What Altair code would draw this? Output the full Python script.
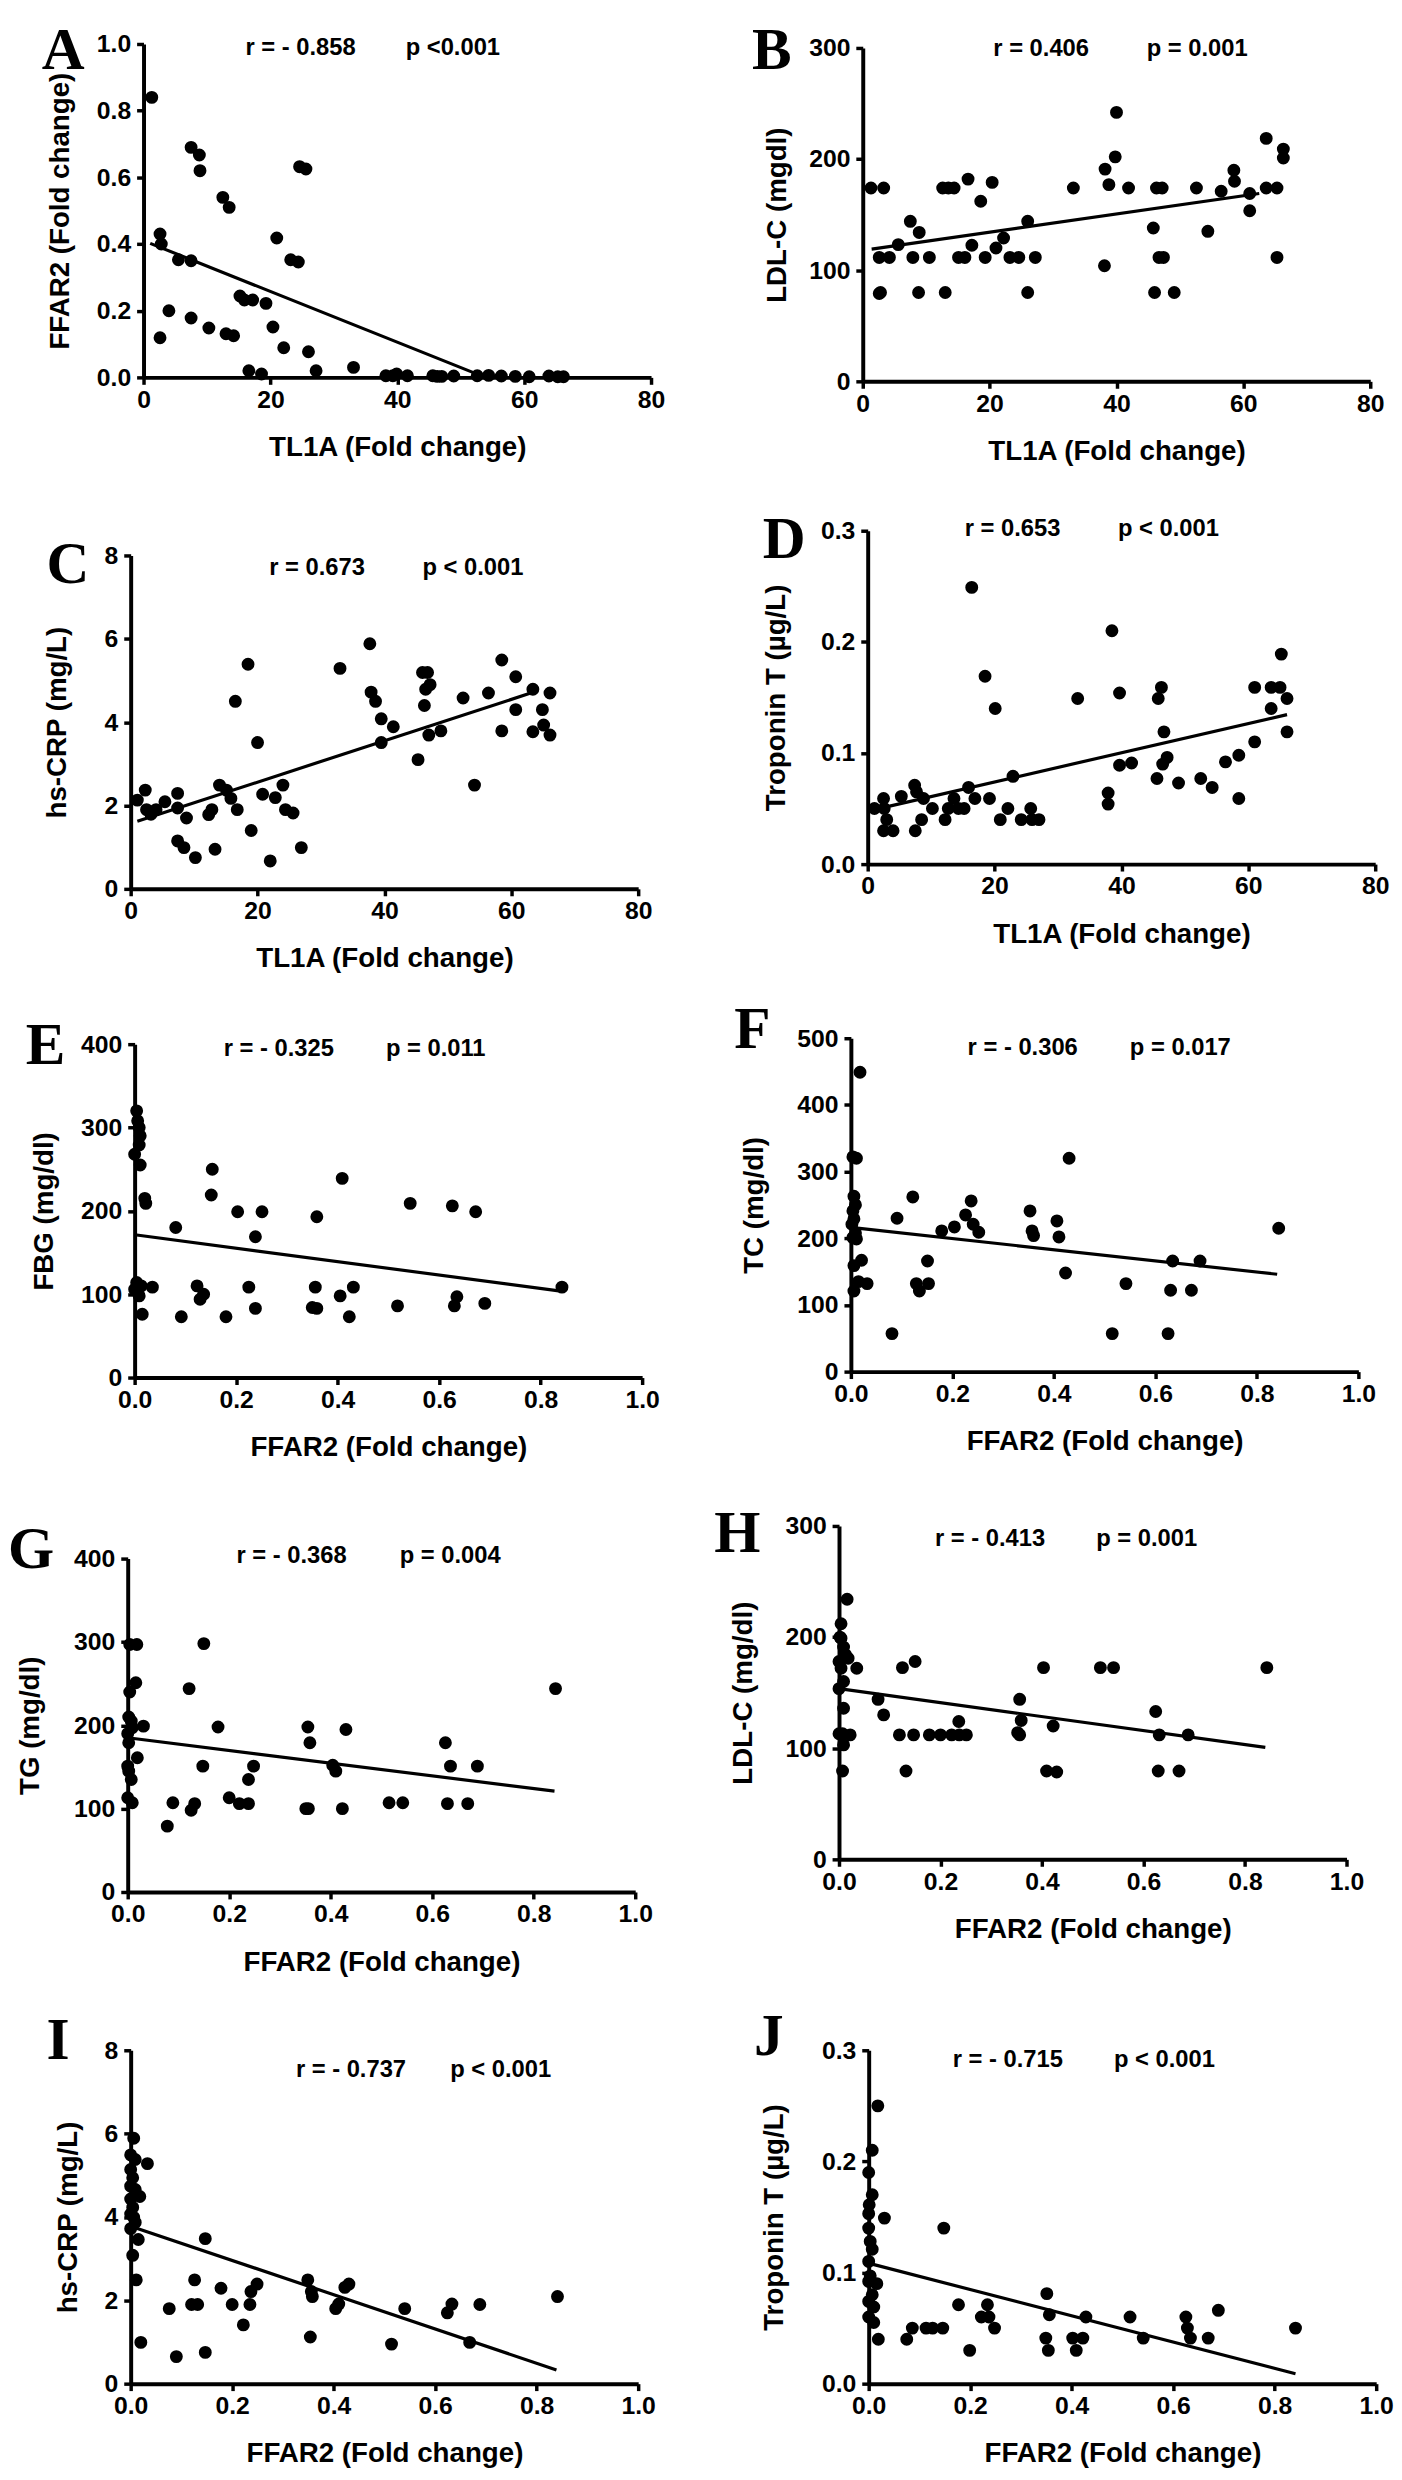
import altair as alt
import pandas as pd

# ---------------- data ----------------
# Panel A : TL1A vs FFAR2
A_x = [1.3, 2.6, 2.8, 5.5, 7.5, 7.5, 8.8, 8.9, 12.5, 13.5, 21.0, 23.2, 24.4, 24.6, 25.6, 4.0, 2.6, 7.5, 10.3, 13.0,
       14.2, 15.2, 15.9, 17.2, 19.3, 20.4, 22.1, 26.0, 16.6, 18.6, 27.2, 33.1, 38.2, 39.3, 39.9, 41.6, 45.6, 46.3, 47.0, 48.9,
       52.6, 54.4, 56.4, 58.6, 60.8, 63.9, 65.3, 66.2]
A_y = [0.84, 0.43, 0.40, 0.353, 0.35, 0.69, 0.667, 0.62, 0.54, 0.51, 0.418, 0.353, 0.346, 0.632, 0.625, 0.20, 0.119, 0.178, 0.148, 0.131,
       0.125, 0.244, 0.232, 0.232, 0.222, 0.151, 0.089, 0.077, 0.02, 0.01, 0.02, 0.03, 0.005, 0.005, 0.01, 0.005, 0.005, 0.003, 0.003, 0.004,
       0.005, 0.006, 0.004, 0.003, 0.002, 0.004, 0.002, 0.002]
A_fit_x = [1.05, 51.9]
A_fit_y = [0.402, 0.015]

# Panel B : TL1A vs LDL-C
B_x = [1.3, 3.3, 2.6, 4.2, 2.8, 2.6, 5.6, 7.5, 7.9, 8.9, 8.8, 10.5, 12.6, 14.4, 13.0, 15.1, 16.1, 16.6, 17.2, 18.6,
       19.3, 20.4, 21.0, 22.2, 23.2, 24.6, 26.0, 26.0, 27.2, 33.2, 38.1, 38.2, 38.8, 40.0, 39.8, 41.9, 45.8, 46.0, 46.3, 47.2,
       46.7, 47.4, 49.1, 52.6, 54.4, 56.5, 58.5, 58.6, 61.0, 61.0, 63.6, 63.6, 65.3, 65.3, 66.3, 66.3, 13.5]
B_y = [174, 174, 111.5, 111.5, 80, 79, 123, 144, 111.5, 134, 80, 111.5, 174, 174, 80, 111.5, 111.5, 182, 122.5, 162,
       111.5, 179, 120, 129, 111.5, 111.5, 144, 80, 111.5, 174, 104, 191, 177, 242, 202, 174, 138, 80, 174, 174,
       111.5, 111.5, 80, 174, 135, 171, 190, 180, 169, 153.5, 218.6, 174, 174, 111.5, 209, 201, 174]
B_fit_x = [1.4, 62.5]
B_fit_y = [119, 169]

# Panel C : TL1A vs hs-CRP
C_x = [1.05, 2.3, 2.5, 3.2, 4.0, 5.4, 7.4, 7.4, 8.8, 7.4, 8.4, 10.2, 12.3, 12.8, 13.3, 14.0, 15.1, 15.8, 16.5, 16.8,
       18.5, 19.0, 20.0, 20.8, 22.0, 22.8, 24.0, 24.4, 25.6, 26.9, 33.0, 37.7, 37.9, 38.6, 39.5, 39.5, 41.4, 45.3, 46.0, 46.8,
       46.5, 47.2, 46.3, 47.0, 48.9, 52.4, 54.2, 56.4, 58.5, 58.5, 60.7, 60.7, 63.4, 63.4, 64.9, 65.1, 66.1, 66.1]
C_y = [2.13, 2.37, 1.9, 1.79, 1.9, 2.09, 2.29, 1.94, 1.70, 1.15, 0.99, 0.75, 1.78, 1.9, 0.95, 2.49, 2.37, 2.17, 4.50, 1.9,
       5.39, 1.40, 3.51, 2.27, 0.67, 2.19, 2.49, 1.9, 1.82, 0.99, 5.29, 5.88, 4.72, 4.50, 4.08, 3.51, 3.89, 3.10, 5.19, 5.19,
       4.79, 4.90, 4.40, 3.69, 3.79, 4.58, 2.49, 4.70, 5.49, 3.79, 5.09, 4.30, 4.79, 3.77, 4.30, 3.93, 4.70, 3.69]
C_fit_x = [1.05, 63.9]
C_fit_y = [1.62, 4.74]

# Panel D : TL1A vs Troponin T
D_x = [1.06, 2.5, 2.6, 3.0, 2.5, 4.0, 5.3, 7.4, 7.7, 7.5, 8.8, 8.5, 10.2, 12.2, 12.7, 13.6, 14.3, 15.2, 15.9, 16.4,
       16.9, 18.5, 19.2, 20.1, 20.9, 22.1, 22.9, 24.2, 25.7, 25.9, 27.0, 33.1, 37.9, 37.9, 38.5, 39.7, 39.7, 41.6, 45.6, 45.8,
       46.3, 46.5, 46.7, 47.2, 49.0, 52.5, 54.3, 56.4, 58.5, 58.5, 61.0, 61.0, 63.6, 63.6, 65.2, 65.0, 66.1, 66.1]
D_y = [0.050, 0.059, 0.050, 0.040, 0.030, 0.030, 0.061, 0.071, 0.065, 0.030, 0.059, 0.040, 0.050, 0.040, 0.050, 0.059, 0.050, 0.050, 0.069, 0.249,
       0.059, 0.169, 0.059, 0.140, 0.040, 0.050, 0.079, 0.040, 0.050, 0.040, 0.040, 0.149, 0.064, 0.054, 0.210, 0.154, 0.089, 0.091, 0.077, 0.149,
       0.159, 0.090, 0.119, 0.096, 0.073, 0.077, 0.069, 0.092, 0.098, 0.059, 0.159, 0.110, 0.159, 0.140, 0.189, 0.159, 0.149, 0.119]
D_fit_x = [1.06, 66.1]
D_fit_y = [0.049, 0.1345]

# Panel E : FFAR2 vs FBG
E_x = [0.004, 0.006, 0.009, 0.011, 0.009, 0.0, 0.011, 0.020, 0.022, 0.004, 0.0, 0.009, 0.013, 0.015, 0.035,
       0.081, 0.092, 0.123, 0.129, 0.136, 0.153, 0.151, 0.180, 0.203, 0.225, 0.238, 0.238, 0.251, 0.356, 0.350,
       0.359, 0.359, 0.405, 0.409, 0.423, 0.431, 0.518, 0.543, 0.626, 0.630, 0.635, 0.672, 0.690, 0.842]
E_y = [320, 308, 300, 290, 279, 268, 255, 215, 209, 114, 106, 98, 110, 76, 108.5,
       180, 73, 110, 94, 100, 250, 219, 73, 199, 108.5, 169, 83, 199, 108.5, 84,
       83, 193, 98, 239, 73, 108.5, 86, 209, 206, 86, 97, 199, 89, 108.5]
E_fit_x = [0.004, 0.836]
E_fit_y = [171, 104]

# Panel F : FFAR2 vs TC
F_x = [0.018, 0.004, 0.011, 0.006, 0.009, 0.004, 0.006, 0.002, 0.009, 0.004, 0.011, 0.006, 0.021, 0.015, 0.032,
       0.006, 0.081, 0.091, 0.122, 0.129, 0.135, 0.151, 0.153, 0.179, 0.204, 0.226, 0.237, 0.241, 0.252, 0.353,
       0.357, 0.360, 0.406, 0.410, 0.423, 0.430, 0.515, 0.542, 0.625, 0.630, 0.634, 0.671, 0.688, 0.843]
F_y = [449, 322, 320, 263, 250, 241, 229, 221, 208, 201, 199, 159, 167, 135, 132,
       121, 57, 230, 262, 132, 121, 166, 132, 211, 217, 235, 256, 221, 209, 241,
       211, 204, 226, 202, 148, 320, 57, 132, 57, 122, 166, 122, 166, 215]
F_fit_x = [0.004, 0.840]
F_fit_y = [216, 146]

# Panel G : FFAR2 vs TG
G_x = [0.004, 0.018, 0.016, 0.004, 0.002, 0.007, 0.009, 0.0, 0.002, 0.019, 0.0, 0.002, 0.007, 0.0, 0.009,
       0.031, 0.078, 0.089, 0.121, 0.125, 0.132, 0.148, 0.150, 0.178, 0.200, 0.220, 0.238, 0.238, 0.248, 0.351,
       0.355, 0.359, 0.404, 0.410, 0.423, 0.430, 0.515, 0.542, 0.626, 0.630, 0.636, 0.670, 0.689, 0.843, 0.356]
G_y = [297, 297, 251, 240, 210, 205, 197, 190, 179, 161, 151, 145, 135, 113, 107,
       199, 79, 107, 244, 98, 106, 151, 298, 198, 113, 106, 135, 106, 151, 100,
       198, 179, 152, 145, 100, 195, 107, 107, 179, 106, 151, 106, 151, 244, 100]
G_fit_x = [0.0, 0.841]
G_fit_y = [185, 121]

# Panel H : FFAR2 vs LDL-C
H_x = [0.016, 0.004, 0.002, 0.004, 0.009, 0.013, 0.0, 0.018, 0.004, 0.035, 0.009, 0.0, 0.009, 0.007, 0.022,
       0.009, 0.007, 0.0, 0.077, 0.088, 0.119, 0.125, 0.132, 0.150, 0.147, 0.178, 0.200, 0.222, 0.236, 0.237,
       0.251, 0.352, 0.356, 0.359, 0.356, 0.403, 0.409, 0.422, 0.429, 0.515, 0.541, 0.624, 0.631, 0.629, 0.670,
       0.688, 0.843]
H_y = [234, 212, 200, 199, 191, 184, 178, 181, 172, 172, 160, 153.6, 136, 113, 112,
       103, 79.5, 113, 144, 130, 112, 172.5, 79.5, 178, 112, 112, 112, 112, 124, 112,
       112, 114, 144, 125, 112, 172.5, 79.5, 120, 78.6, 172.5, 172.5, 133, 112, 79.5, 79.5,
       112, 172.5]
H_fit_x = [0.0, 0.84]
H_fit_y = [153.6, 100.8]

# Panel I : FFAR2 vs hs-CRP
I_x = [0.006, 0.0, 0.009, 0.0, 0.004, 0.0, 0.009, 0.0, 0.018, 0.004, 0.0, 0.009, 0.0, 0.015, 0.004,
       0.011, 0.020, 0.033, 0.006, 0.076, 0.090, 0.120, 0.126, 0.132, 0.147, 0.147, 0.178, 0.200, 0.222, 0.235,
       0.237, 0.249, 0.349, 0.356, 0.358, 0.354, 0.404, 0.410, 0.422, 0.430, 0.514, 0.540, 0.624, 0.633, 0.668,
       0.688, 0.841]
I_y = [5.89, 5.49, 5.38, 5.14, 4.94, 4.74, 4.66, 4.43, 4.49, 4.23, 4.07, 3.87, 3.72, 3.46, 3.08,
       2.49, 0.99, 5.28, 3.99, 1.80, 0.65, 1.90, 2.49, 1.90, 0.75, 3.48, 2.29, 1.90, 1.41, 1.90,
       2.21, 2.39, 2.49, 2.21, 2.09, 1.12, 1.80, 1.91, 2.31, 2.39, 0.95, 1.80, 1.70, 1.91, 0.99,
       1.90, 2.09]
I_fit_x = [0.0, 0.839]
I_fit_y = [3.78, 0.33]

# Panel J : FFAR2 vs Troponin T
J_x = [0.018, 0.007, 0.0, 0.007, 0.001, 0.0, 0.0, 0.031, 0.003, 0.007, 0.0, 0.003, 0.016, 0.0, 0.007,
       0.0, 0.010, 0.0, 0.010, 0.019, 0.075, 0.086, 0.113, 0.126, 0.146, 0.148, 0.177, 0.199, 0.222, 0.234,
       0.237, 0.248, 0.351, 0.356, 0.349, 0.354, 0.402, 0.409, 0.422, 0.428, 0.515, 0.541, 0.625, 0.628, 0.634,
       0.669, 0.689, 0.841]
J_y = [0.250, 0.210, 0.190, 0.170, 0.161, 0.153, 0.140, 0.149, 0.128, 0.121, 0.110, 0.097, 0.090, 0.092, 0.080,
       0.074, 0.069, 0.060, 0.055, 0.040, 0.040, 0.050, 0.050, 0.050, 0.050, 0.140, 0.071, 0.030, 0.060, 0.071,
       0.060, 0.050, 0.081, 0.062, 0.041, 0.030, 0.041, 0.030, 0.041, 0.060, 0.060, 0.041, 0.060, 0.050, 0.041,
       0.041, 0.066, 0.050]
J_fit_x = [0.003, 0.841]
J_fit_y = [0.108, 0.009]

# axis ticks / labels
TL1A_ticks = [0, 20, 40, 60, 80]
FFAR2_ticks = [0.0, 0.2, 0.4, 0.6, 0.8, 1.0]
TL1A_title = "TL1A (Fold change)"
FFAR2_title = "FFAR2 (Fold change)"

stats_r = ["r = - 0.858", "r =  0.406", "r =  0.673", "r =  0.653", "r = - 0.325",
           "r = - 0.306", "r = - 0.368", "r = - 0.413", "r = - 0.737", "r = - 0.715"]
stats_p = ["p <0.001", "p = 0.001", "p < 0.001", "p < 0.001", "p = 0.011",
           "p = 0.017", "p = 0.004", "p = 0.001", "p < 0.001", "p < 0.001"]

FONT = "Liberation Sans, Arial, sans-serif"
SERIF = "Liberation Serif, Times New Roman, serif"
W, H = 513, 337


def panel(xs, ys, fx, fy, xkind, ydomain, yticks, yfmt, ytitle, ytitle_x,
          letter, letter_dx, letter_dy, r_text, p_text, r_dx, p_dx, text_dy, dx=0, dy=0):
    """dx/dy shift the plot frame inside its grid cell (panels are not perfectly aligned in the figure)."""
    if xkind == "TL1A":
        xdomain, xticks, xfmt, xtitle = [0, 80], TL1A_ticks, ".0f", TL1A_title
    else:
        xdomain, xticks, xfmt, xtitle = [0, 1], FFAR2_ticks, ".1f", FFAR2_title
    df = pd.DataFrame({"x": xs, "y": ys})
    fit = pd.DataFrame({"x": fx, "y": fy})
    xsc = alt.Scale(domain=xdomain, range=[dx, W + dx], nice=False, zero=False)
    ysc = alt.Scale(domain=ydomain, range=[H + dy, dy], nice=False, zero=False)
    pts = alt.Chart(df).mark_circle(size=170, color="black", opacity=1).encode(
        x=alt.X("x:Q", scale=xsc,
                axis=alt.Axis(values=xticks, format=xfmt, title=xtitle, offset=dy)),
        y=alt.Y("y:Q", scale=ysc,
                axis=alt.Axis(values=yticks, format=yfmt, title=ytitle, offset=-dx,
                              titleX=ytitle_x, titleBaseline="middle")),
    )
    line = alt.Chart(fit).mark_line(color="black", strokeWidth=3.2).encode(x="x:Q", y="y:Q")
    let = alt.Chart(pd.DataFrame({"t": [letter]})).mark_text(
        font=SERIF, fontWeight="bold", fontSize=60, align="left", baseline="alphabetic", color="black"
    ).encode(x=alt.value(letter_dx), y=alt.value(letter_dy), text="t:N")
    rr = alt.Chart(pd.DataFrame({"t": [r_text]})).mark_text(
        font=FONT, fontWeight="bold", fontSize=24, align="left", baseline="middle", color="black"
    ).encode(x=alt.value(r_dx), y=alt.value(text_dy), text="t:N")
    pp = alt.Chart(pd.DataFrame({"t": [p_text]})).mark_text(
        font=FONT, fontWeight="bold", fontSize=24, align="left", baseline="middle", color="black"
    ).encode(x=alt.value(p_dx), y=alt.value(text_dy), text="t:N")
    return alt.layer(pts, line, let, rr, pp).properties(width=W, height=H)


pA = panel(A_x, A_y, A_fit_x, A_fit_y, "TL1A", [0, 1], [0, 0.2, 0.4, 0.6, 0.8, 1.0], ".1f",
           "FFAR2 (Fold change)", -84, "A", -94, 20, stats_r[0], stats_p[0], 112, 274, -1, dx=9, dy=-5)
pB = panel(B_x, B_y, B_fit_x, B_fit_y, "TL1A", [0, 300], [0, 100, 200, 300], ".0f",
           "LDL-C (mgdl)", -86, "B", -108, 20, stats_r[1], stats_p[1], 136, 291, 0, dx=4, dy=-1)
pC = panel(C_x, C_y, C_fit_x, C_fit_y, "TL1A", [0, 8], [0, 2, 4, 6, 8], ".0f",
           "hs-CRP (mg/L)", -74, "C", -89, 34, stats_r[2], stats_p[2], 136, 291, 19, dx=-4, dy=6)
pD = panel(D_x, D_y, D_fit_x, D_fit_y, "TL1A", [0, 0.3], [0, 0.1, 0.2, 0.3], ".1f",
           "Troponin T (µg/L)", -92, "D", -97, 9, stats_r[3], stats_p[3], 107, 262, -21, dx=9, dy=-19)
pE = panel(E_x, E_y, E_fit_x, E_fit_y, "FFAR2", [0, 400], [0, 100, 200, 300, 400], ".0f",
           "FBG (mg/dl)", -91, "E", -110, 14, stats_r[4], stats_p[4], 90, 254, -1, dx=0, dy=-6)
pF = panel(F_x, F_y, F_fit_x, F_fit_y, "FFAR2", [0, 500], [0, 100, 200, 300, 400, 500], ".0f",
           "TC (mg/dl)", -97, "F", -126, -2, stats_r[5], stats_p[5], 110, 274, -2, dx=-8, dy=-12)
pG = panel(G_x, G_y, G_fit_x, G_fit_y, "FFAR2", [0, 400], [0, 100, 200, 300, 400], ".0f",
           "TG (mg/dl)", -98, "G", -128, 17, stats_r[6], stats_p[6], 103, 268, 5, dx=-7, dy=8)
pH = panel(H_x, H_y, H_fit_x, H_fit_y, "FFAR2", [0, 300], [0, 100, 200, 300], ".0f",
           "LDL-C (mg/dl)", -96, "H", -146, 1, stats_r[7], stats_p[7], 77, 240, -12, dx=-20, dy=-25)
pI = panel(I_x, I_y, I_fit_x, I_fit_y, "FFAR2", [0, 8], [0, 2, 4, 6, 8], ".0f",
           "hs-CRP (mg/L)", -63, "I", -89, 8, stats_r[8], stats_p[8], 163, 319, 19, dx=-4, dy=-1)
pJ = panel(J_x, J_y, J_fit_x, J_fit_y, "FFAR2", [0, 0.3], [0, 0.1, 0.2, 0.3], ".1f",
           "Troponin T (µg/L)", -95, "J", -106, 4, stats_r[9], stats_p[9], 95, 258, 9, dx=10, dy=-1)

chart = alt.concat(pA, pB, pC, pD, pE, pF, pG, pH, pI, pJ, columns=2,
                   spacing={"row": 169, "column": 219}, bounds="flush").properties(
    padding={"left": 0, "top": 0, "right": 0, "bottom": 0}, background="white"
).configure_view(stroke=None).configure_axis(
    domainColor="black", domainWidth=4, tickColor="black", tickWidth=3.5, tickSize=7,
    labelFont=FONT, labelFontSize=25, labelFontWeight="bold", labelColor="black",
    titleFont=FONT, titleFontSize=28, titleFontWeight="bold", titleColor="black",
    grid=False, labelFlush=False, labelOverlap=False,
).configure_axisX(labelPadding=3, titlePadding=22).configure_axisY(labelPadding=6)

chart.save("out.html", embed_options={"renderer": "svg", "actions": False})
